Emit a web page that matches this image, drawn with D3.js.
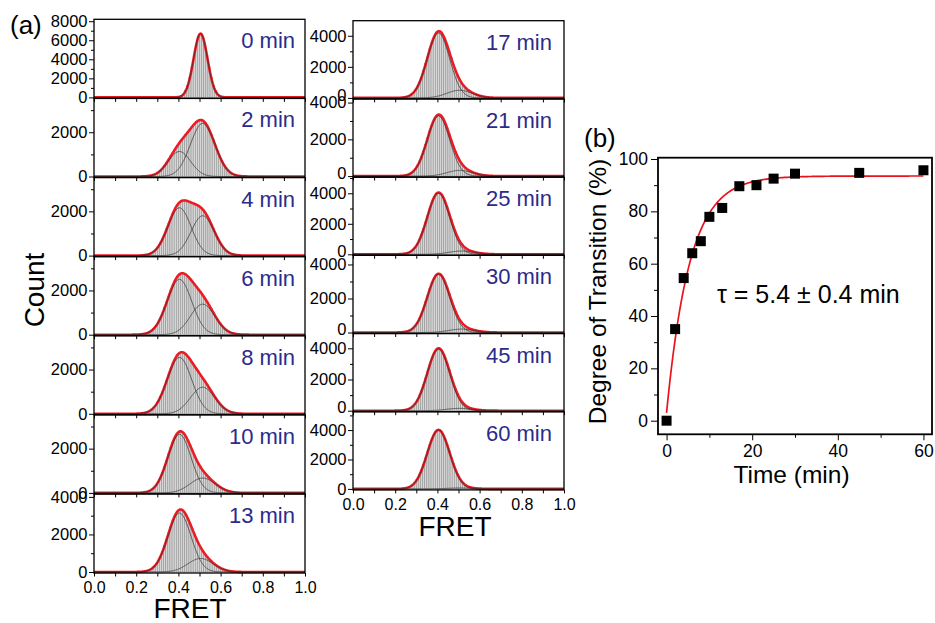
<!DOCTYPE html>
<html>
<head>
<meta charset="utf-8">
<script src="https://cdn.jsdelivr.net/npm/d3@7"></script>
<style>
  body { margin: 0; background: #fff; }
  svg { display: block; }
  text { font-family: "Liberation Sans", Arial, sans-serif; }
</style>
</head>
<body>
<svg id="chart" width="935" height="623"></svg>
<script>
// FRET histograms, bins of 0.01 starting at 0.20
let binStart = 0.20
let binWidth = 0.01

let panelLabels = ["0 min", "2 min", "4 min", "6 min", "8 min", "10 min", "13 min",
                   "17 min", "21 min", "25 min", "30 min", "45 min", "60 min"]

let count0 = [0,0,0,0,0,0,0,0,0,0, 0,0,0,0,0,0,0,0,10,30,
  70,160,360,710,1280,2130,3210,4430,5580,6400, 6700,6400,5580,4430,3210,2130,1280,710,360,160,
  70,30,10,0,0,0,0,0,0,0]
let count2 = [0,0,0,10,10,20,30,60,90,130, 190,270,370,490,630,780,940,1090,1250,1390,
  1530,1650,1770,1890,2010,2130,2250,2360,2460,2530, 2560,2530,2450,2320,2130,1910,1670,1410,1160,930,
  720,540,400,280,200,130,90,50,30,20]
let count4 = [0,10,10,20,30,50,90,130,200,290, 420,570,760,970,1210,1460,1700,1930,2130,2290,
  2400,2470,2490,2490,2460,2420,2380,2340,2300,2250, 2180,2090,1970,1820,1640,1430,1220,1010,810,630,
  470,350,240,170,110,70,40,30,20,10]
let count6 = [10,10,20,30,60,90,140,200,290,420, 570,750,970,1220,1480,1760,2020,2260,2470,2630,
  2730,2780,2770,2720,2640,2530,2420,2300,2170,2050, 1930,1790,1650,1500,1340,1180,1010,840,690,550,
  420,320,230,160,110,80,50,30,20,10]
let count8 = [10,10,20,40,60,90,140,210,300,420, 580,770,990,1240,1510,1790,2050,2300,2500,2650,
  2750,2780,2760,2700,2590,2460,2320,2180,2040,1900, 1760,1620,1480,1340,1190,1040,890,740,600,480,
  370,280,200,140,100,70,40,30,20,10]
let count10 = [0,10,10,20,40,60,100,160,250,360, 510,700,920,1190,1470,1770,2060,2330,2540,2700,
  2780,2770,2700,2560,2370,2160,1940,1720,1510,1330, 1170,1030,910,800,700,600,510,430,350,280,
  220,170,130,90,60,40,30,20,10,10]
let count13 = [0,10,20,30,50,80,120,190,290,430, 600,830,1100,1410,1750,2110,2460,2780,3040,3220,
  3320,3320,3240,3070,2850,2590,2310,2030,1770,1530, 1320,1140,970,830,700,590,480,390,310,240,
  180,140,100,70,50,30,20,10,10,0]
let count17 = [0,10,10,20,40,80,130,210,320,490, 710,990,1340,1750,2210,2690,3170,3600,3950,4190,
  4290,4260,4090,3800,3430,3020,2590,2180,1800,1470, 1190,970,790,640,520,420,340,270,210,170,
  130,90,70,50,30,20,10,10,10,0]
let count21 = [0,10,10,20,30,60,100,160,250,380, 550,780,1050,1370,1730,2110,2480,2820,3090,3270,
  3350,3310,3170,2940,2650,2310,1970,1640,1340,1080, 860,690,550,440,350,280,220,180,140,110,
  80,60,40,30,20,10,10,10,0,0]
let count25 = [0,10,10,20,40,70,120,200,310,470, 680,950,1290,1680,2120,2580,3030,3430,3760,3970,
  4050,3990,3810,3510,3130,2700,2270,1850,1470,1150, 890,680,520,400,310,250,190,150,120,90,
  70,50,40,30,20,10,10,10,0,0]
let count30 = [0,10,10,20,40,60,100,170,260,400, 580,810,1100,1430,1810,2200,2580,2930,3200,3390,
  3460,3410,3250,3000,2670,2310,1940,1590,1270,1000, 770,600,460,360,280,220,180,140,110,90,
  70,50,40,30,20,10,10,10,0,0]
let count45 = [0,10,10,20,40,70,120,200,300,460, 670,940,1270,1660,2090,2550,2990,3390,3710,3920,
  4000,3940,3750,3450,3070,2640,2210,1790,1410,1090, 820,610,450,330,240,180,130,100,70,60,
  40,30,20,10,10,10,0,0,0,0]
let count60 = [0,10,10,20,40,70,120,200,310,460, 670,950,1280,1670,2110,2570,3010,3410,3730,3940,
  4020,3950,3750,3440,3050,2610,2160,1730,1340,1010, 730,520,370,250,170,120,80,50,40,30,
  20,10,10,10,0,0,0,0,0,0]

// two-Gaussian fit of each histogram
let lowAmp    = [0, 1130, 2160, 2500, 2550, 2650, 3140, 4170, 3270, 4010, 3420, 3960, 4000]
let lowCenter = [0.405, 0.405, 0.405, 0.405, 0.405, 0.405, 0.405, 0.405, 0.405, 0.405, 0.405, 0.405, 0.405]
let lowWidth  = [0.053, 0.053, 0.055, 0.058, 0.058, 0.055, 0.055, 0.053, 0.053, 0.053, 0.053, 0.053, 0.053]
let highAmp    = [6700, 2400, 1800, 1380, 1200, 670, 720, 490, 310, 215, 200, 150, 60]
let highCenter = [0.505, 0.515, 0.515, 0.515, 0.515, 0.515, 0.505, 0.505, 0.505, 0.515, 0.515, 0.505, 0.505]
let highWidth  = [0.033, 0.058, 0.055, 0.058, 0.058, 0.060, 0.060, 0.060, 0.060, 0.060, 0.060, 0.060, 0.060]

// top of each count axis
let yMax = [8200, 3530, 3530, 3530, 3530, 3530, 4160, 4970, 4200, 5060, 4540, 4950, 5250]

let fretTicks = [0, 0.2, 0.4, 0.6, 0.8, 1.0]
let fretMinor = [0.1, 0.3, 0.5, 0.7, 0.9]

// panel (b)
let timeMin = [0, 2, 4, 6, 8, 10, 13, 17, 21, 25, 30, 45, 60]
let transition = [0, 35, 54.5, 64, 68.6, 77.9, 81.3, 89.6, 90, 92.5, 94.4, 94.7, 95.7]
let fitOffset = 3
let fitAmp = 90.5
let fitTau = 5.4
let timeTicks = [0, 20, 40, 60]
let timeMinor = [10, 30, 50]
let degTicks = [0, 20, 40, 60, 80, 100]
let degMinor = [10, 30, 50, 70, 90]

let countList = [count0, count2, count4, count6, count8, count10, count13,
                 count17, count21, count25, count30, count45, count60]

let svg = d3.select("#chart")
svg.append("rect").attr("width", 935).attr("height", 623).attr("fill", "#fff")

let gauss = (a, c, s, v) => a * Math.exp(-((v - c) * (v - c)) / (2 * s * s))
let fretSamples = d3.range(0, 1.00001, 0.0025)

let columns = [
  {x0: 94, x1: 305, top: 19.3, h: 79.1, n: 7, labelX: 295, zeroShift: 0},
  {x0: 353, x1: 564, top: 20.7, h: 78.2, n: 6, labelX: 552, zeroShift: -3}
]

function styleAxis(g, size) {
  g.select(".domain").remove()
  g.selectAll(".tick line").attr("stroke", "#000").attr("stroke-width", 1)
  g.selectAll(".tick text").attr("fill", "#000").style("font-size", size)
    .style("font-family", '"Liberation Sans", Arial, sans-serif')
}

panelLabels.forEach((label, i) => {
  let col = i < 7 ? columns[0] : columns[1]
  let row = i < 7 ? i : i - 7
  let top = col.top + row * col.h
  let bottom = top + col.h
  let isBottom = row === col.n - 1

  let x = d3.scaleLinear().domain([0, 1]).range([col.x0, col.x1])
  let y = d3.scaleLinear().domain([0, yMax[i]]).range([bottom - 1, top])

  let g = svg.append("g")
  let clipId = "clip" + i
  g.append("clipPath").attr("id", clipId)
    .append("rect").attr("x", col.x0).attr("y", top).attr("width", col.x1 - col.x0).attr("height", col.h + 2)
  let plot = g.append("g").attr("clip-path", `url(#${clipId})`)

  // histogram bars
  let bars = countList[i].map((c, j) => ({x: binStart + j * binWidth, c: c})).filter(d => d.c > 0)
  plot.selectAll("rect.bar").data(bars).join("rect")
    .attr("class", "bar")
    .attr("x", d => x(d.x))
    .attr("width", x(binWidth) - x(0))
    .attr("y", d => y(d.c))
    .attr("height", d => y(0) - y(d.c))
    .attr("fill", "#d6d6d6")
    .attr("stroke", "#8a8a8a")
    .attr("stroke-width", 0.5)

  let lowFn = v => gauss(lowAmp[i], lowCenter[i], lowWidth[i], v)
  let highFn = v => gauss(highAmp[i], highCenter[i], highWidth[i], v)

  // sum of the fit in red
  plot.append("path")
    .datum(fretSamples)
    .attr("d", d3.line().x(v => x(v)).y(v => y(lowFn(v) + highFn(v))))
    .attr("fill", "none").attr("stroke", "#ec1c24").attr("stroke-width", 2.6)

  // single components in dark grey
  let comps = []
  if (lowAmp[i] > 0) comps.push(lowFn)
  if (highAmp[i] > 0) comps.push(highFn)
  comps.forEach(fn => {
    plot.append("path")
      .datum(fretSamples)
      .attr("d", d3.line().x(v => x(v)).y(v => y(fn(v))))
      .attr("fill", "none").attr("stroke", "#333").attr("stroke-width", 0.9).attr("opacity", 0.8)
  })

  // axes
  let majorY = d3.range(0, yMax[i] + 1, 2000)
  let minorY = d3.range(1000, yMax[i] + 1, 2000)
  g.append("g").attr("transform", `translate(${col.x0},0)`)
    .call(d3.axisLeft(y).tickValues(majorY).tickSize(5).tickPadding(1.5).tickFormat(d => d))
    .call(a => styleAxis(a, "16.5px"))
    .call(a => a.selectAll(".tick text").filter(d => d === 0 && !isBottom)
      .attr("transform", `translate(0,${col.zeroShift})`))
  g.append("g").attr("transform", `translate(${col.x0},0)`)
    .call(d3.axisLeft(y).tickValues(minorY).tickSize(3).tickFormat(""))
    .call(a => styleAxis(a, "16.5px"))

  g.append("g").attr("transform", `translate(0,${bottom})`)
    .call(d3.axisBottom(x).tickValues(fretTicks).tickSize(3.5).tickPadding(5)
      .tickFormat(isBottom ? d3.format(".1f") : ""))
    .call(a => styleAxis(a, "16px"))
  g.append("g").attr("transform", `translate(0,${bottom})`)
    .call(d3.axisBottom(x).tickValues(fretMinor).tickSize(3.5).tickFormat(""))
    .call(a => styleAxis(a, "16px"))

  g.append("rect")
    .attr("x", col.x0).attr("y", top)
    .attr("width", col.x1 - col.x0).attr("height", col.h)
    .attr("fill", "none").attr("stroke", "#000").attr("stroke-width", 1.3)

  g.append("text")
    .attr("x", col.labelX).attr("y", top + 29)
    .attr("text-anchor", "end")
    .attr("fill", "#2b2b8c")
    .style("font-size", "22px")
    .text(label)
})

// titles of (a)
svg.append("text").attr("x", 10).attr("y", 34).style("font-size", "26px").text("(a)")
svg.append("text").attr("x", 190).attr("y", 618).attr("text-anchor", "middle")
  .style("font-size", "28px").text("FRET")
svg.append("text").attr("x", 455).attr("y", 535.5).attr("text-anchor", "middle")
  .style("font-size", "28px").text("FRET")
svg.append("text").attr("transform", "translate(44,290) rotate(-90)").attr("text-anchor", "middle")
  .style("font-size", "28px").text("Count")

// panel (b)
let bx = d3.scaleLinear().domain([-2, 62]).range([658, 932])
let by = d3.scaleLinear().domain([-5.2, 100.5]).range([434.3, 157.7])
let gb = svg.append("g")

gb.append("g").attr("transform", "translate(0,434.3)")
  .call(d3.axisBottom(bx).tickValues(timeTicks).tickSize(6).tickPadding(4).tickFormat(d => d))
  .call(a => styleAxis(a, "17.5px"))
gb.append("g").attr("transform", "translate(0,434.3)")
  .call(d3.axisBottom(bx).tickValues(timeMinor).tickSize(3.5).tickFormat(""))
  .call(a => styleAxis(a, "17.5px"))
gb.append("g").attr("transform", "translate(658,0)")
  .call(d3.axisLeft(by).tickValues(degTicks).tickSize(7).tickPadding(3).tickFormat(d => d))
  .call(a => styleAxis(a, "17.5px"))
gb.append("g").attr("transform", "translate(658,0)")
  .call(d3.axisLeft(by).tickValues(degMinor).tickSize(4).tickFormat(""))
  .call(a => styleAxis(a, "17.5px"))

let fitT = d3.range(0, 60.001, 0.25)
gb.append("path").datum(fitT)
  .attr("d", d3.line().x(t => bx(t)).y(t => by(fitOffset + fitAmp * (1 - Math.exp(-t / fitTau)))))
  .attr("fill", "none").attr("stroke", "#e8141c").attr("stroke-width", 1.7)

gb.selectAll("rect.pt").data(timeMin).join("rect")
  .attr("class", "pt")
  .attr("x", (d) => bx(d) - 5)
  .attr("y", (d, j) => by(transition[j]) - 5)
  .attr("width", 10).attr("height", 10)
  .attr("fill", "#000")

gb.append("rect").attr("x", 658).attr("y", 157.7).attr("width", 274).attr("height", 276.6)
  .attr("fill", "none").attr("stroke", "#000").attr("stroke-width", 1.8)

svg.append("text").attr("x", 584).attr("y", 146.5).style("font-size", "26px").text("(b)")
svg.append("text").attr("x", 717).attr("y", 302.5).style("font-size", "25px").text("τ = 5.4 ± 0.4 min")
svg.append("text").attr("x", 791.5).attr("y", 482.5).attr("text-anchor", "middle")
  .style("font-size", "24.5px").text("Time (min)")
svg.append("text").attr("transform", "translate(606,291.5) rotate(-90)").attr("text-anchor", "middle")
  .style("font-size", "24.5px").text("Degree of Transition (%)")
</script>
</body>
</html>
